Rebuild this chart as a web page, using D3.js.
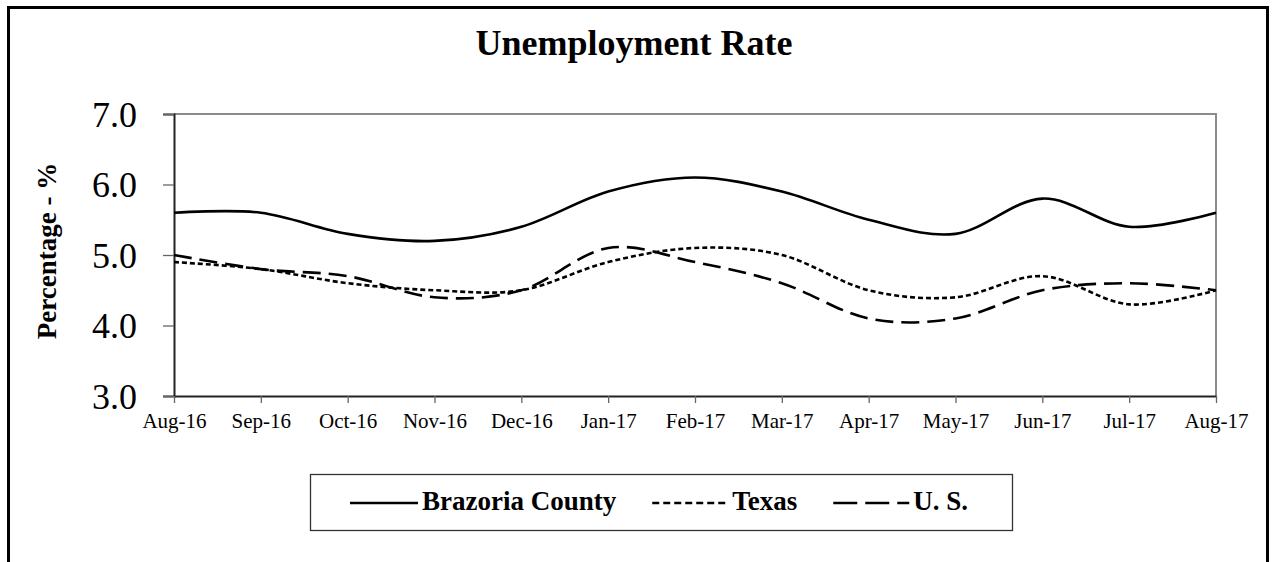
<!DOCTYPE html>
<html>
<head>
<meta charset="utf-8">
<title>Unemployment Rate</title>
<script src="https://d3js.org/d3.v7.min.js"></script>
<style>
  body { margin: 0; background: #fff; }
  svg { display: block; font-family: "Liberation Serif", "DejaVu Serif", serif; }
</style>
</head>
<body>
<svg id="chart"></svg>
<script>
// Data
var months = ["Aug-16", "Sep-16", "Oct-16", "Nov-16", "Dec-16", "Jan-17", "Feb-17",
              "Mar-17", "Apr-17", "May-17", "Jun-17", "Jul-17", "Aug-17"];
var brazoria = [5.6, 5.6, 5.3, 5.2, 5.4, 5.9, 6.1, 5.9, 5.5, 5.3, 5.8, 5.4, 5.6];
var texas    = [4.9, 4.8, 4.6, 4.5, 4.5, 4.9, 5.1, 5.0, 4.5, 4.4, 4.7, 4.3, 4.5];
var us       = [5.0, 4.8, 4.7, 4.4, 4.5, 5.1, 4.9, 4.6, 4.1, 4.1, 4.5, 4.6, 4.5];
var yTicks   = [3, 4, 5, 6, 7];

var seriesNames = ["Brazoria County", "Texas", "U. S."];
var seriesDash  = [null, "5,3", "18,8"];
var seriesData  = [brazoria, texas, us];

// Layout
var width = 1275, height = 562;
var plot = { left: 174, right: 1216, top: 114, bottom: 396 };

var svg = d3.select("#chart").attr("width", width).attr("height", height);

// outer frame (bottom edge runs off the picture)
svg.append("rect")
    .attr("x", 8.5).attr("y", 7.5)
    .attr("width", 1259).attr("height", 600)
    .attr("fill", "none").attr("stroke", "#000").attr("stroke-width", 3);

svg.append("text")
    .attr("x", 634).attr("y", 55)
    .attr("text-anchor", "middle")
    .style("font-size", "36px").style("font-weight", "bold")
    .text("Unemployment Rate");

var x = d3.scalePoint().domain(months).range([plot.left, plot.right]);
var y = d3.scaleLinear().domain([3, 7]).range([plot.bottom, plot.top]);

// top and right border of the plot area
svg.append("path")
    .attr("d", "M" + plot.left + "," + plot.top + "H" + plot.right + "V" + plot.bottom)
    .attr("fill", "none").attr("stroke", "#8c8c8c").attr("stroke-width", 2);

// y axis
var yAxis = svg.append("g")
    .attr("transform", "translate(" + plot.left + ",0)")
    .call(d3.axisLeft(y).tickValues(yTicks).tickSize(11).tickPadding(26)
        .tickFormat(d3.format(".1f")));
yAxis.select(".domain").attr("stroke", "#222").attr("stroke-width", 2);
yAxis.selectAll(".tick line").attr("stroke", "#666").attr("stroke-width", 1.3);
yAxis.selectAll(".tick text")
    .attr("fill", "#000")
    .style("font-family", "Liberation Serif")
    .style("font-size", "36px")
    .attr("dy", "0.34em");

// x axis
var xAxis = svg.append("g")
    .attr("transform", "translate(0," + plot.bottom + ")")
    .call(d3.axisBottom(x).tickSize(7).tickPadding(10).tickSizeOuter(0));
xAxis.select(".domain").attr("stroke", "#222").attr("stroke-width", 2);
xAxis.selectAll(".tick line").attr("stroke", "#666").attr("stroke-width", 1.3);
xAxis.selectAll(".tick text")
    .attr("fill", "#000")
    .style("font-family", "Liberation Serif")
    .style("font-size", "21px")
    .attr("dy", "0.71em");

// y axis title
svg.append("text")
    .attr("transform", "translate(56,251) rotate(-90)")
    .attr("text-anchor", "middle")
    .style("font-size", "27px").style("font-weight", "bold")
    .text("Percentage - %");

// lines (Excel-style smoothed)
var line = d3.line()
    .x(function (d, i) { return x(months[i]); })
    .y(function (d) { return y(d); })
    .curve(d3.curveCardinal.tension(0));

seriesData.forEach(function (vals, k) {
    svg.append("path")
        .datum(vals)
        .attr("d", line)
        .attr("fill", "none")
        .attr("stroke", "#000")
        .attr("stroke-width", 2.6)
        .attr("stroke-dasharray", seriesDash[k]);
});

// legend
svg.append("rect")
    .attr("x", 310.5).attr("y", 474.5)
    .attr("width", 702).attr("height", 56)
    .attr("fill", "#fff").attr("stroke", "#333").attr("stroke-width", 1.3);

var lx = 350, legY = 503;
seriesNames.forEach(function (name, k) {
    var sample = k == 0 ? 68 : 76;
    svg.append("line")
        .attr("x1", lx).attr("x2", lx + sample)
        .attr("y1", legY).attr("y2", legY)
        .attr("stroke", "#000").attr("stroke-width", 2.6)
        .attr("stroke-dasharray", k == 1 ? "7,4" : (k == 2 ? "24,8" : null));
    var t = svg.append("text")
        .attr("x", lx + sample + 4).attr("y", legY + 7)
        .style("font-size", "27px").style("font-weight", "bold")
        .text(name);
    lx = lx + sample + 4 + t.node().getComputedTextLength() + 36;
});
</script>
</body>
</html>
